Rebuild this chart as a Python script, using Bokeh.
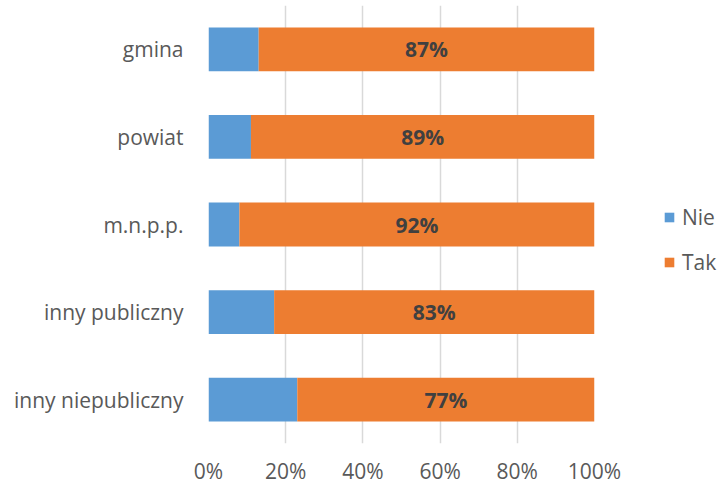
from bokeh.plotting import figure
from bokeh.models import ColumnDataSource, FactorRange, Range1d, NumeralTickFormatter, Legend, LegendItem, LabelSet
from bokeh.core.properties import value
from bokeh.embed import file_html
from bokeh.resources import INLINE

categories = ["gmina", "powiat", "m.n.p.p.", "inny publiczny", "inny niepubliczny"]
nie = [0.13, 0.11, 0.08, 0.17, 0.23]
tak = [0.87, 0.89, 0.92, 0.83, 0.77]
series = ["Nie", "Tak"]
colors = ["#5B9BD5", "#ED7D31"]
x_ticks = [0, 0.2, 0.4, 0.6, 0.8, 1.0]

FONT = "Open Sans"
TXT = "#595959"

src = ColumnDataSource(dict(
    cat=categories,
    Nie=nie,
    Tak=tak,
    mid=[n + t / 2 for n, t in zip(nie, tak)],
    lbl=[f"{round(t * 100)}%" for t in tak],
))

p = figure(
    y_range=FactorRange(*reversed(categories), range_padding=0),
    x_range=Range1d(0, 1),
    frame_width=386, frame_height=438,
    min_border_left=208, min_border_right=122, min_border_top=5, min_border_bottom=5,
    output_backend="svg", toolbar_location=None,
)

rs = p.hbar_stack(series, y="cat", height=0.5, color=colors, source=src, line_color=None)

labels = LabelSet(x="mid", y="cat", text="lbl", source=src,
                  text_align="center", text_baseline="middle",
                  text_font=value(FONT), text_font_size="21px", text_font_style="bold",
                  text_color="#404040")
p.add_layout(labels)

legend = Legend(items=[LegendItem(label=s, renderers=[r]) for s, r in zip(series, rs)],
                location=(69, 167), glyph_width=12, glyph_height=12, label_standoff=7,
                label_text_font=FONT, label_text_font_size="21px", label_text_color=TXT,
                spacing=17, padding=0, margin=0, border_line_color=None,
                background_fill_alpha=0)
p.add_layout(legend, "right")

p.outline_line_color = None
p.ygrid.grid_line_color = None
p.xgrid.grid_line_color = "#d9d9d9"
p.xgrid.grid_line_width = 1.5
p.xaxis.ticker = x_ticks
p.xaxis.formatter = NumeralTickFormatter(format="0%")

for ax in (p.xaxis, p.yaxis):
    ax.axis_line_color = None
    ax.major_tick_line_color = None
    ax.minor_tick_line_color = None
    ax.major_label_text_font = FONT
    ax.major_label_text_font_size = "21px"
    ax.major_label_text_color = TXT
p.xaxis.major_label_standoff = 7
p.yaxis.major_label_standoff = 19

open("out.html", "w").write(file_html(p, INLINE))
